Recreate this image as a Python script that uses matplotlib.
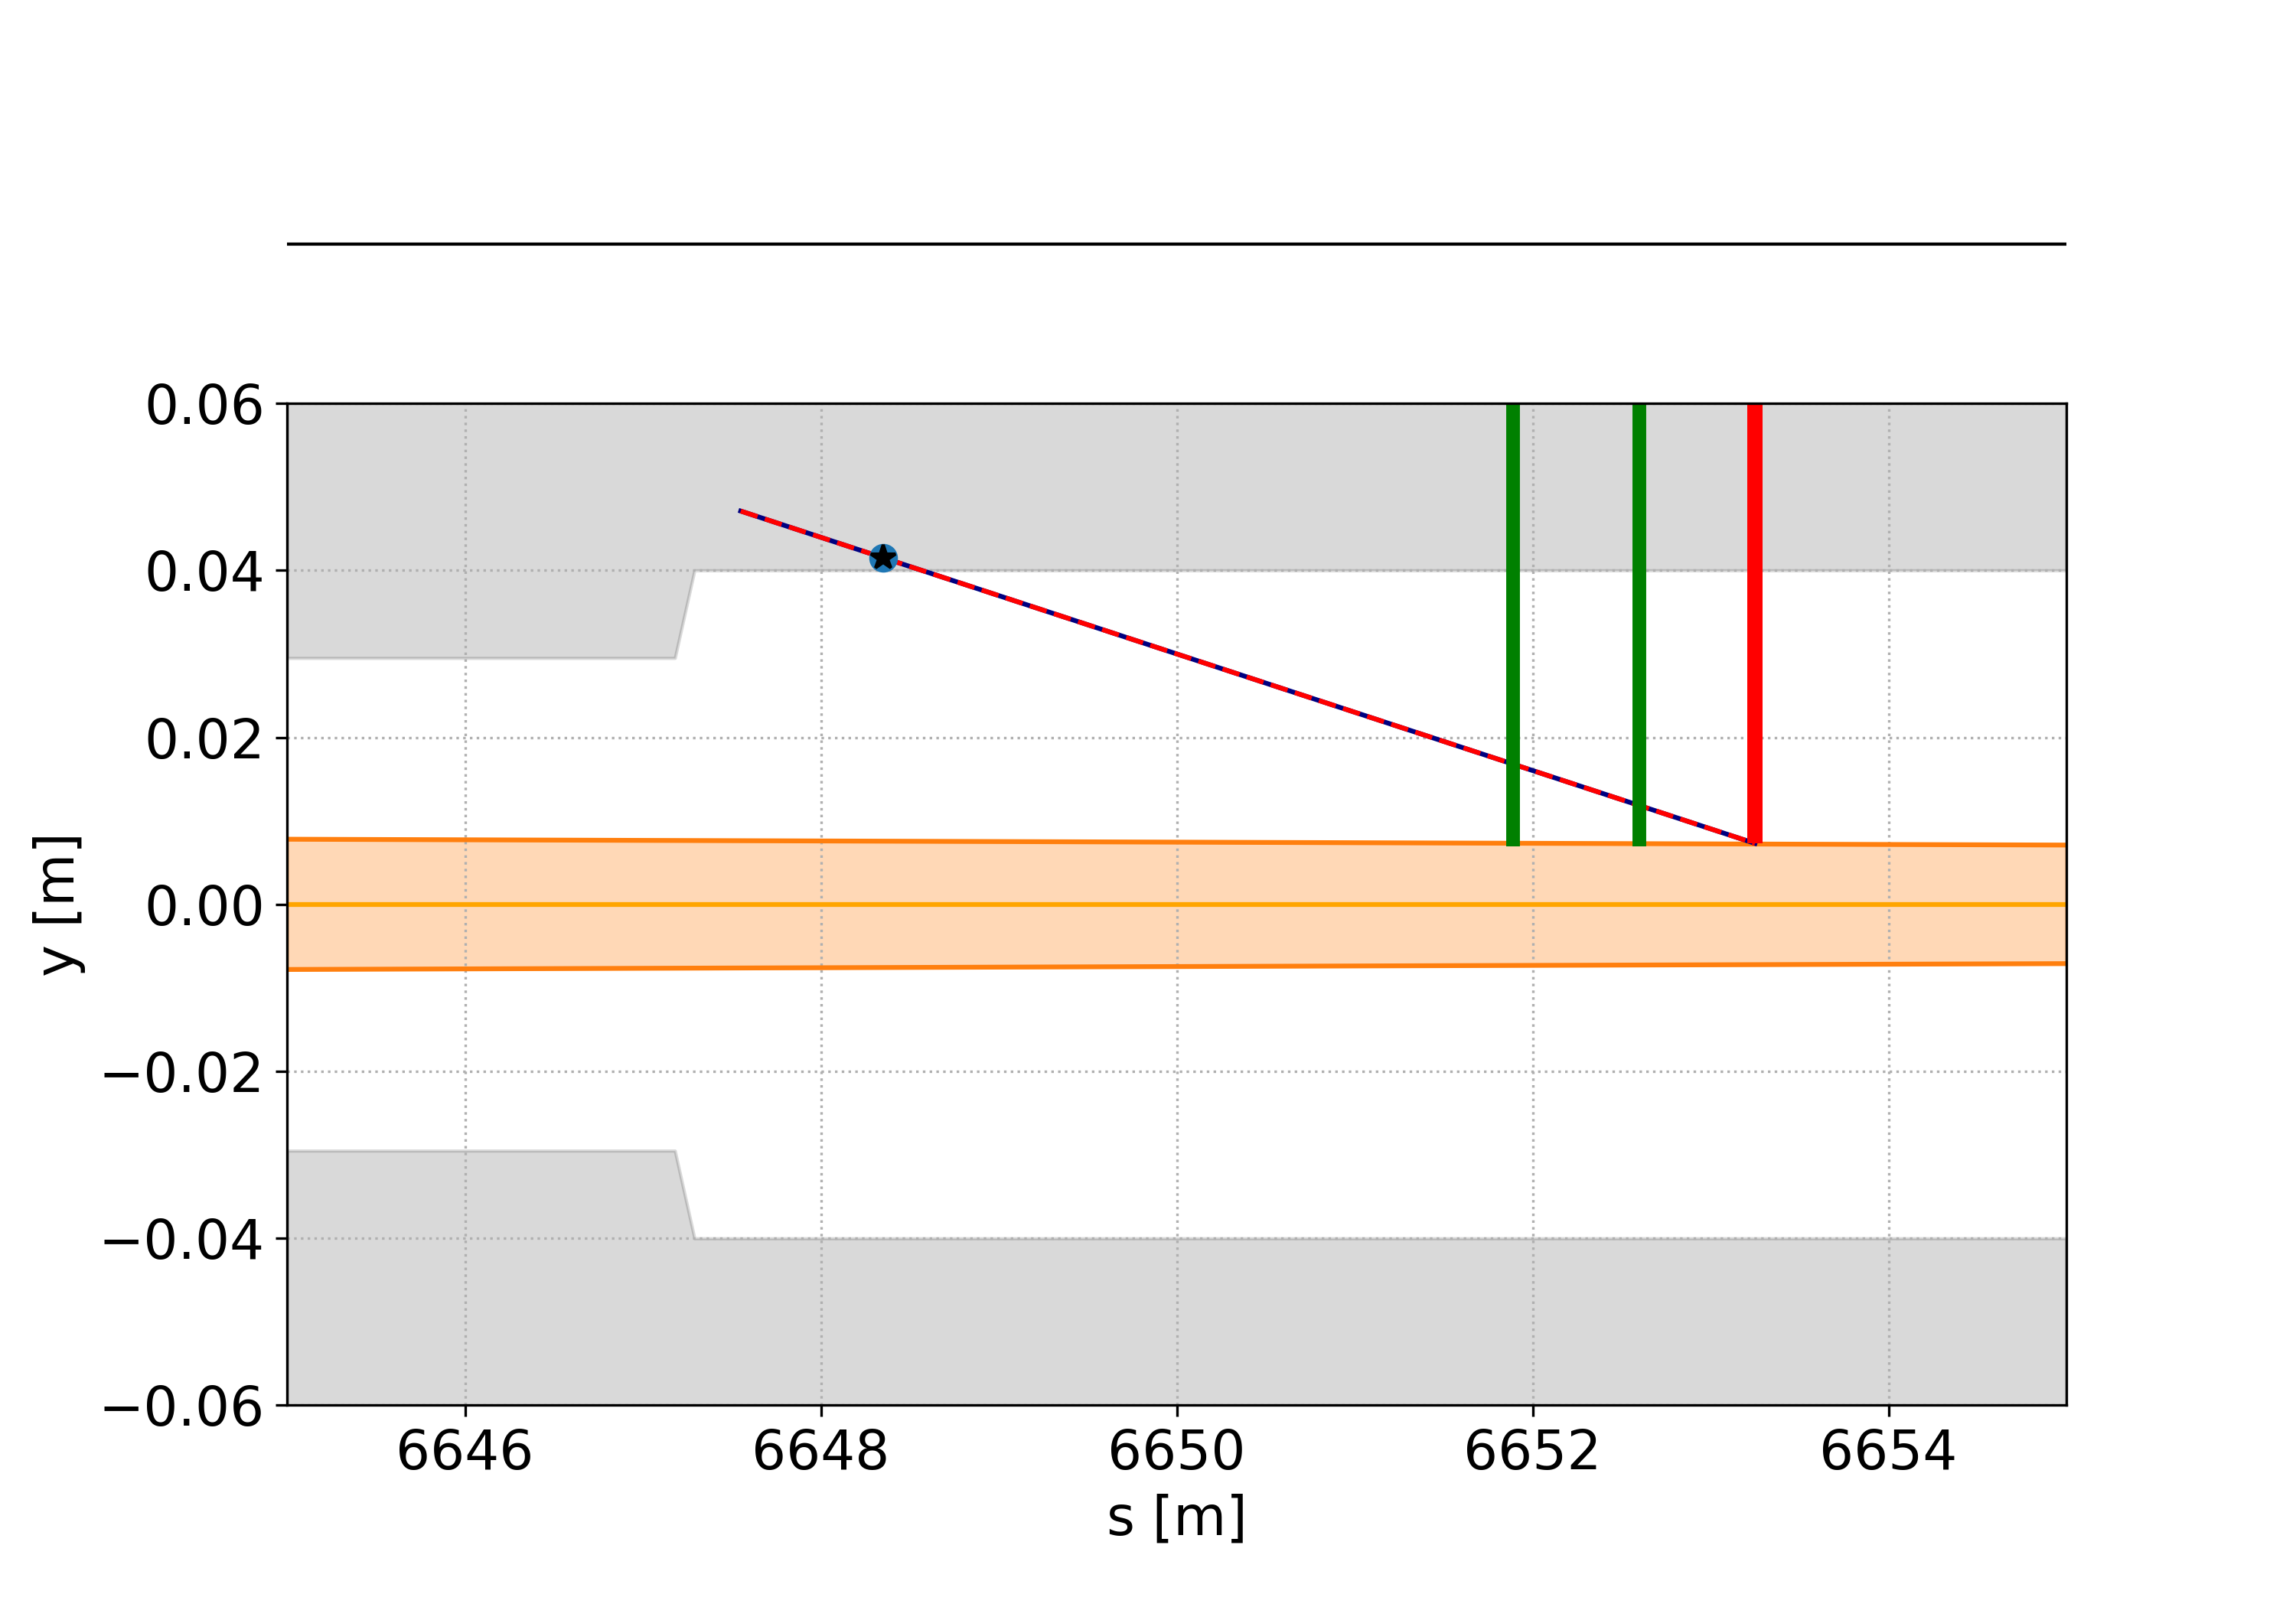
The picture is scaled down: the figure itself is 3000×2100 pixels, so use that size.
import numpy as np
import matplotlib.pyplot as plt

# aperture (upper / lower jaw of the gray region)
ap_s = [6645.0, 6647.18, 6647.29, 6655.0]
ap_up = [0.0295, 0.0295, 0.040, 0.040]
ap_low = [-0.0295, -0.0295, -0.040, -0.040]

# beam envelope
env_s = [6645.0, 6655.0]
env_up = [0.0078, 0.0071]
env_low = [-0.0078, -0.0071]

# particle track
trk_s = [6647.55, 6653.25]
trk_y = [0.0471, 0.0073]
hit_s = 6648.35
hit_y = 0.0415

# collimator jaws
green_s = [6651.89, 6652.60]
green_y = [0.0069, 0.0069]
red_s = 6653.25
red_y = 0.0073

plt.rcParams['font.size'] = 17

fig = plt.figure(figsize=(10, 7), dpi=300)
ax = fig.add_axes([0.125, 0.1255, 0.775, 0.6235])
ax_top = fig.add_axes([0.125, 0.798, 0.775, 0.10])

# top strip: just the line
ax_top.plot([6645, 6655], [0, 0], color='k', lw=1.0)
ax_top.set_xlim(6645, 6655)
ax_top.set_ylim(-1, 1)
ax_top.axis('off')

ax.fill_between(ap_s, ap_up, 0.1, color='k', alpha=0.15)
ax.fill_between(ap_s, ap_low, -0.1, color='k', alpha=0.15)

ax.fill_between(env_s, env_low, env_up, color='C1', alpha=0.3)
ax.plot(env_s, env_up, color='C1', lw=1.5)
ax.plot(env_s, env_low, color='C1', lw=1.5)
ax.plot(env_s, [0, 0], color='orange', lw=1.5)

ax.plot(trk_s, trk_y, color='navy', lw=1.5)
ax.plot(trk_s, trk_y, color='red', lw=1.5, ls='--')

for s, y0 in zip(green_s, green_y):
    ax.plot([s, s], [y0, 0.1], color='green', lw=4.3, solid_capstyle='butt')
ax.plot([red_s, red_s], [red_y, 0.1], color='red', lw=4.8, solid_capstyle='butt')

ax.plot(hit_s, hit_y, 'o', color='C0', ms=8)
ax.plot(hit_s, hit_y, '*', color='k', ms=8)

ax.set_xlim(6645, 6655)
ax.set_ylim(-0.06, 0.06)
ax.set_xticks([6646, 6648, 6650, 6652, 6654])
ax.set_yticks([-0.06, -0.04, -0.02, 0.0, 0.02, 0.04, 0.06])
ax.grid(True, ls=':')
ax.set_xlabel('s [m]')
ax.set_ylabel('y [m]')

fig.savefig('out.png')
